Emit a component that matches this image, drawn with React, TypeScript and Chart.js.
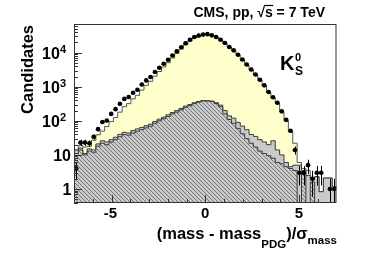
import React, { useEffect, useRef } from 'react';
import { Chart, registerables } from 'chart.js';

Chart.register(...registerables);

// ---- axis / binning ----
const X_MIN = -7;
const X_MAX = 7;
const N_BINS = 60;
const binEdges: number[] = Array.from({ length: N_BINS + 1 }, (_, i) => X_MIN + (i * (X_MAX - X_MIN)) / N_BINS);
const binCenters: number[] = binEdges.slice(0, N_BINS).map((e, i) => (e + binEdges[i + 1]) / 2);

const Y_MIN = 0.388;
const Y_MAX = 69500;

const xTickLabels = [-5, 0, 5];
const yTickExponents = [0, 1, 2, 3, 4];

// ---- series ----
const dataCounts = [
  4, 23, 23, 22, 34, 57, 92, 102, 160, 220,
  315, 440, 500, 665, 815, 1170, 1540, 1940, 2700, 3600,
  4750, 6200, 8300, 11000, 14500, 19000, 24000, 29000, 31700, 34000,
  35000, 32300, 29000, 24000, 19200, 14700, 11700, 8700, 6300, 4500,
  3200, 2300, 1600, 1100, 700, 490, 340, 190, 107, 51,
  14, 3, 3, 5, 2, 3, 3, 0, 1, 1,
];

const totalMC = [
  14, 19, 17, 18, 27, 39, 50, 68, 95, 125,
  180, 260, 320, 440, 560, 800, 1100, 1450, 2050, 2800,
  3800, 5100, 7000, 9500, 12800, 17000, 22000, 27500, 31000, 33500,
  34500, 32000, 28500, 23500, 18800, 14500, 11300, 8400, 6100, 4400,
  3100, 2200, 1550, 1050, 680, 470, 320, 180, 100, 48,
  22, 6, 4, 3.5, 1.9, 2.3, 0.83, 2.1, 2.1, 1.17,
];

const backgroundMC = [
  14, 16, 11, 15, 14, 21, 26, 24, 28, 33,
  40, 46, 44, 52, 58, 64, 72, 80, 96, 112,
  128, 150, 175, 200, 230, 270, 300, 340, 370, 395,
  390, 380, 340, 290, 200, 140, 120, 90, 70, 55,
  40, 35, 28, 24, 20, 26, 14, 10, 6, 4.5,
  5, 5, 3.5, 2.5, 1.9, 2.3, 0.83, 2.1, 2.1, 1.17,
];

const hatchedMC = [
  11, 14, 10, 13, 12, 18, 22, 20, 24, 28,
  34, 40, 38, 44, 50, 55, 62, 70, 85, 100,
  115, 135, 160, 180, 210, 250, 280, 320, 355, 385,
  380, 370, 320, 260, 160, 110, 85, 60, 42, 30,
  22, 17, 13, 11, 9.5, 8, 6, 5.5, 4.5, 4,
  3.5, 0, 3.2, 0, 1.6, 0, 0, 0, 0, 0,
];

const FONT = "'Liberation Sans', Arial, Helvetica, sans-serif";

function stepPoints(vals: number[]) {
  const pts = vals.map((v, i) => ({ x: binEdges[i], y: v > 0 ? v : 1e-3 }));
  const last = vals[vals.length - 1];
  pts.push({ x: binEdges[N_BINS], y: last > 0 ? last : 1e-3 });
  return pts;
}

function makeHatch(): CanvasPattern | string {
  const n = 4;
  const c = document.createElement('canvas');
  c.width = n;
  c.height = n;
  const g = c.getContext('2d');
  if (!g) return '#b4b4b4';
  g.fillStyle = '#cacaca';
  g.fillRect(0, 0, n, n);
  g.fillStyle = '#767676';
  for (let i = 0; i < n; i++) g.fillRect(i, i, 1, 1);
  const p = g.createPattern(c, 'repeat');
  return p || '#b4b4b4';
}

const decor = {
  id: 'decor',
  afterDatasetsDraw(chart: any) {
    const { ctx, chartArea } = chart;
    const xs = chart.scales.x;
    const ys = chart.scales.y;
    ctx.save();
    ctx.beginPath();
    ctx.rect(chartArea.left, chartArea.top, chartArea.right - chartArea.left, chartArea.bottom - chartArea.top);
    ctx.clip();
    ctx.strokeStyle = '#000';
    ctx.lineWidth = 1;
    dataCounts.forEach((n, k) => {
      if (n <= 0) return;
      const err = Math.sqrt(n);
      const x = xs.getPixelForValue(binCenters[k]);
      const y = ys.getPixelForValue(n);
      const yTop = ys.getPixelForValue(n + err);
      const lo = n - err;
      const yBot = lo > 0 ? ys.getPixelForValue(lo) : chartArea.bottom + 2;
      ctx.beginPath();
      ctx.moveTo(Math.round(x) + 0.5, yTop);
      ctx.lineTo(Math.round(x) + 0.5, yBot);
      ctx.moveTo(xs.getPixelForValue(binEdges[k]), Math.round(y) + 0.5);
      ctx.lineTo(xs.getPixelForValue(binEdges[k + 1]), Math.round(y) + 0.5);
      ctx.stroke();
    });
    ctx.restore();
  },
  afterDraw(chart: any) {
    const { ctx, chartArea } = chart;
    const xs = chart.scales.x;
    const ys = chart.scales.y;
    const L = chartArea.left, R = chartArea.right, T = chartArea.top, B = chartArea.bottom;
    ctx.save();
    // frame
    ctx.strokeStyle = '#333';
    ctx.lineWidth = 1;
    ctx.strokeRect(L + 0.5, T + 0.5, R - L - 1, B - T - 1);

    // y ticks (inside, left)
    ctx.beginPath();
    for (let d = -1; d <= 4; d++) {
      for (let m = 1; m <= 9; m++) {
        const v = m * Math.pow(10, d);
        if (v < Y_MIN || v > Y_MAX) continue;
        const y = Math.round(ys.getPixelForValue(v)) + 0.5;
        const len = m === 1 ? 8 : 4;
        ctx.moveTo(L, y);
        ctx.lineTo(L + len, y);
      }
    }
    // x ticks (inside, bottom)
    for (let v = Math.ceil(X_MIN) + 1; v < X_MAX; v++) {
      const x = Math.round(xs.getPixelForValue(v)) + 0.5;
      const len = v % 5 === 0 ? 8 : 4;
      ctx.moveTo(x, B);
      ctx.lineTo(x, B - len);
    }
    ctx.stroke();

    ctx.fillStyle = '#000';
    ctx.textBaseline = 'alphabetic';

    // y tick labels
    yTickExponents.forEach((e) => {
      const y = ys.getPixelForValue(Math.pow(10, e));
      if (e === 0) {
        ctx.font = `bold 16px ${FONT}`;
        ctx.textAlign = 'right';
        ctx.fillText('1', 71.5, y + 6);
      } else if (e === 1) {
        ctx.font = `bold 16px ${FONT}`;
        ctx.textAlign = 'right';
        ctx.fillText('10', 71, y + 6);
      } else {
        ctx.font = `bold 11px ${FONT}`;
        const sup = String(e);
        const ws = ctx.measureText(sup).width;
        ctx.textAlign = 'left';
        ctx.fillText(sup, 66 - ws, y + 0.5);
        ctx.font = `bold 16px ${FONT}`;
        ctx.textAlign = 'right';
        ctx.fillText('10', 66 - ws, y + 6.5);
      }
    });

    // x tick labels
    ctx.font = `bold 15px ${FONT}`;
    ctx.textAlign = 'center';
    xTickLabels.forEach((v) => {
      const x = xs.getPixelForValue(v);
      ctx.fillText(v < 0 ? '-' + Math.abs(v) : String(v), x - (v < 0 ? 1 : 0), 217.5);
    });

    // x title: (mass - mass_PDG)/sigma_mass, right aligned to frame
    const parts = [
      { t: '(mass - mass', size: 16.5, dy: 0 },
      { t: 'PDG', size: 11.5, dy: 9.5 },
      { t: ')/σ', size: 16.5, dy: 0 },
      { t: 'mass', size: 11.5, dy: 5 },
    ];
    let total = 0;
    parts.forEach((p) => {
      ctx.font = `bold ${p.size}px ${FONT}`;
      total += ctx.measureText(p.t).width;
    });
    let cx = R + 0.5 - total;
    ctx.textAlign = 'left';
    parts.forEach((p) => {
      ctx.font = `bold ${p.size}px ${FONT}`;
      ctx.fillText(p.t, cx, 238.5 + p.dy);
      cx += ctx.measureText(p.t).width;
    });

    // y title
    ctx.save();
    ctx.translate(33, 25);
    ctx.rotate(-Math.PI / 2);
    ctx.font = `bold 16.5px ${FONT}`;
    ctx.textAlign = 'right';
    ctx.fillText('Candidates', 0, 0);
    ctx.restore();

    // top title
    ctx.font = `bold 14px ${FONT}`;
    ctx.textAlign = 'right';
    const title = 'CMS, pp, √s = 7 TeV';
    ctx.fillText(title, 325, 16.5);
    const wAll = ctx.measureText(title).width;
    const wPre = ctx.measureText('CMS, pp, √').width;
    const wS = ctx.measureText('s').width;
    const xs0 = 325 - wAll + wPre;
    ctx.lineWidth = 1.2;
    ctx.strokeStyle = '#000';
    ctx.beginPath();
    ctx.moveTo(xs0 - 1, 5.5);
    ctx.lineTo(xs0 + wS + 0.5, 5.5);
    ctx.stroke();

    // K0S label
    ctx.textAlign = 'left';
    ctx.font = `bold 20px ${FONT}`;
    ctx.fillText('K', 280, 70);
    const wK = ctx.measureText('K').width;
    ctx.font = `bold 11px ${FONT}`;
    ctx.fillText('0', 280 + wK + 0.5, 60.5);
    ctx.font = `bold 12px ${FONT}`;
    ctx.fillText('S', 280 + wK + 0.5, 75);

    ctx.restore();
  },
};

export default function App() {
  const ref = useRef<HTMLCanvasElement | null>(null);

  useEffect(() => {
    if (!ref.current) return;
    const hatch = makeHatch();
    const chart = new Chart(ref.current, {
      type: 'line',
      data: {
        datasets: [
          {
            label: 'Data',
            data: binCenters.map((x, i) => ({ x, y: dataCounts[i] > 0 ? dataCounts[i] : null })),
            showLine: false,
            pointRadius: 2.3,
            pointBackgroundColor: '#000',
            pointBorderWidth: 0,
            borderColor: '#000',
            order: 1,
          } as any,
          {
            label: 'Background (hatched)',
            data: stepPoints(hatchedMC),
            stepped: 'before',
            fill: 'start',
            backgroundColor: hatch as any,
            borderColor: '#3a3a3a',
            borderWidth: 1,
            pointRadius: 0,
            order: 2,
          } as any,
          {
            label: 'Background',
            data: stepPoints(backgroundMC),
            stepped: 'before',
            fill: 'start',
            backgroundColor: '#cacaca',
            borderColor: '#3a3a3a',
            borderWidth: 1,
            pointRadius: 0,
            order: 3,
          } as any,
          {
            label: 'Total MC',
            data: stepPoints(totalMC),
            stepped: 'before',
            fill: 'start',
            backgroundColor: '#ffffcc',
            borderColor: '#555',
            borderWidth: 1,
            pointRadius: 0,
            order: 4,
          } as any,
        ],
      },
      options: {
        animation: false,
        responsive: false,
        events: [],
        layout: { padding: { left: 0, right: 37.5, top: 24, bottom: 0 } },
        plugins: { legend: { display: false }, tooltip: { enabled: false }, title: { display: false } },
        scales: {
          x: {
            type: 'linear',
            min: X_MIN,
            max: X_MAX,
            ticks: { display: false },
            grid: { display: false },
            border: { display: false },
            afterFit: (s: any) => {
              s.height = 50;
            },
          },
          y: {
            type: 'logarithmic',
            min: Y_MIN,
            max: Y_MAX,
            ticks: { display: false },
            grid: { display: false },
            border: { display: false },
            afterFit: (s: any) => {
              s.width = 74;
            },
          },
        },
      } as any,
      plugins: [decor as any],
    });
    return () => chart.destroy();
  }, []);

  return (
    <div style={{ position: 'fixed', left: 0, top: 0, width: 374, height: 253, background: '#fff' }}>
      <canvas ref={ref} width={374} height={253} style={{ display: 'block', width: 374, height: 253 }} />
    </div>
  );
}
